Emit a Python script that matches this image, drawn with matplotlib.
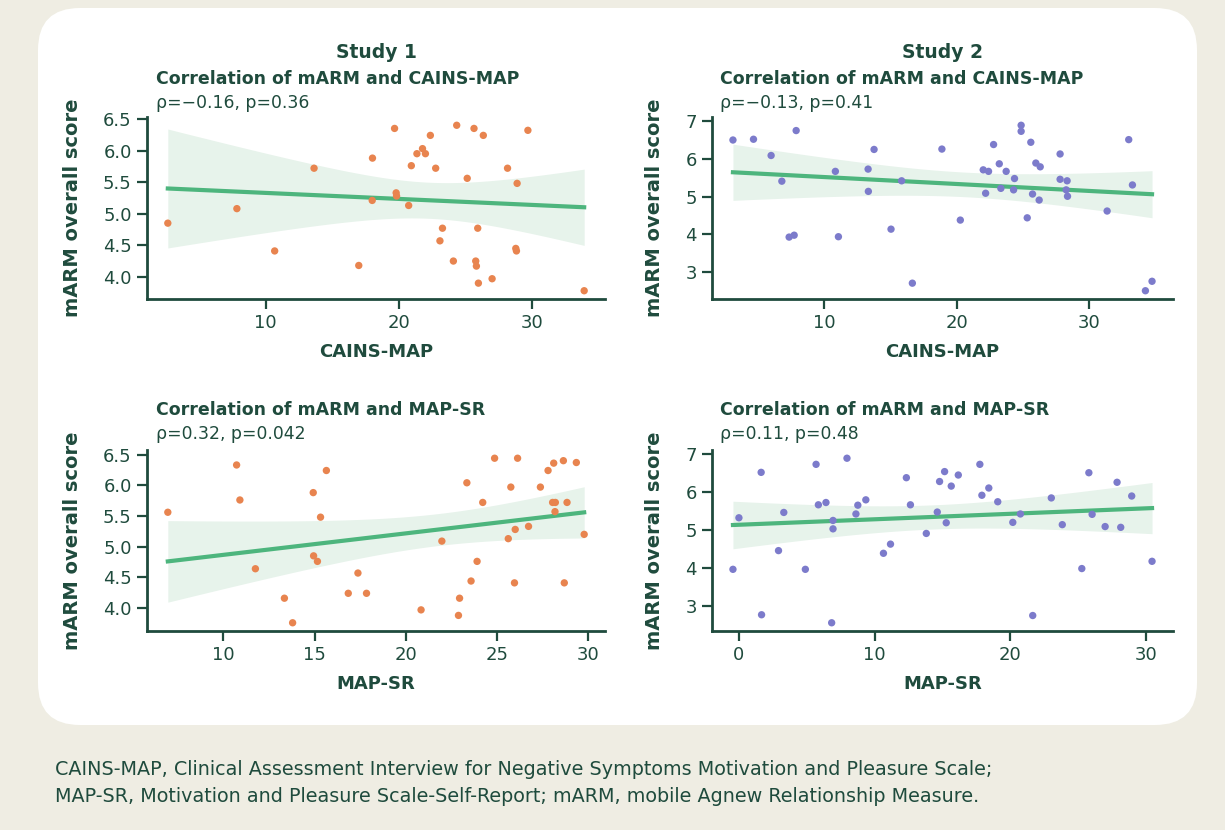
import numpy as np
import matplotlib.pyplot as plt
from matplotlib.patches import FancyBboxPatch
from matplotlib.transforms import IdentityTransform

# ---- data ----
s1_cains_x = [2.64, 7.83, 10.67, 13.63, 16.99, 18.0, 18.02, 19.68, 19.8, 19.83, 20.74, 20.94,
              21.36, 21.78, 22.0, 22.37, 22.77, 23.28, 23.09, 24.1, 24.35, 25.14, 25.65, 26.35,
              25.93, 25.78, 25.83, 25.98, 27.01, 28.17, 28.89, 28.79, 28.84, 29.7, 33.93]
s1_cains_y = [4.85, 5.08, 4.41, 5.72, 4.18, 5.21, 5.88, 6.35, 5.33, 5.28, 5.13, 5.76,
              5.95, 6.03, 5.95, 6.24, 5.72, 4.77, 4.57, 4.25, 6.40, 5.56, 6.35, 6.24,
              4.77, 4.25, 4.17, 3.90, 3.97, 5.72, 5.48, 4.45, 4.41, 6.32, 3.78]

s2_cains_x = [3.12, 4.67, 6.0, 6.81, 7.89, 7.36, 7.74, 10.85, 11.08, 13.32, 13.34, 13.77,
              15.05, 15.85, 16.66, 18.89, 20.28, 22.01, 22.41, 22.19, 22.79, 23.22, 23.34,
              23.74, 24.37, 24.3, 24.87, 24.87, 25.6, 25.33, 25.73, 25.98, 26.31, 26.23,
              27.81, 27.81, 28.34, 28.27, 28.37, 31.36, 32.99, 33.27, 34.25, 34.75]
s2_cains_y = [6.50, 6.52, 6.09, 5.41, 6.75, 3.93, 3.98, 5.67, 3.94, 5.73, 5.14, 6.25,
              4.14, 5.42, 2.71, 6.26, 4.38, 5.71, 5.67, 5.09, 6.38, 5.87, 5.22,
              5.67, 5.48, 5.18, 6.89, 6.73, 6.44, 4.44, 5.07, 5.89, 5.79, 4.91,
              6.13, 5.46, 5.42, 5.18, 5.01, 4.62, 6.51, 5.31, 2.51, 2.76]

s1_mapsr_x = [6.96, 10.73, 10.91, 11.76, 13.35, 13.8, 14.93, 14.95, 15.16, 15.33, 15.65,
              16.85, 17.38, 17.85, 20.84, 21.98, 22.95, 22.89, 23.35, 23.58, 23.91, 24.22,
              24.87, 25.62, 25.76, 26.0, 25.96, 26.13, 26.73, 27.38, 27.8, 28.11, 28.05,
              28.2, 28.18, 28.64, 28.84, 28.69, 29.35, 29.78]
s1_mapsr_y = [5.56, 6.33, 5.76, 4.64, 4.16, 3.76, 5.88, 4.85, 4.76, 5.48, 6.24,
              4.24, 4.57, 4.24, 3.97, 5.09, 4.16, 3.88, 6.04, 4.44, 4.76, 5.72,
              6.44, 5.13, 5.97, 5.28, 4.41, 6.44, 5.33, 5.97, 6.24, 6.36, 5.72,
              5.72, 5.57, 6.40, 5.72, 4.41, 6.37, 5.20]

s2_mapsr_x = [-0.44, 0.0, 1.64, 1.67, 2.92, 3.31, 4.9, 5.69, 5.86, 6.42, 6.84, 6.94, 6.94,
              7.97, 8.63, 8.77, 9.36, 10.66, 11.18, 12.35, 12.65, 13.82, 14.63, 14.8, 15.17,
              15.29, 15.66, 16.18, 17.77, 17.92, 18.43, 19.09, 20.2, 20.76, 21.67, 23.04,
              23.85, 25.29, 25.81, 26.05, 27.01, 27.89, 28.16, 28.97, 30.47]
s2_mapsr_y = [3.97, 5.32, 6.51, 2.78, 4.46, 5.46, 3.97, 6.72, 5.66, 5.72, 2.57, 5.25, 5.03,
              6.88, 5.42, 5.65, 5.79, 4.39, 4.63, 6.37, 5.66, 4.91, 5.47, 6.27, 6.53,
              5.19, 6.15, 6.44, 6.72, 5.91, 6.10, 5.74, 5.20, 5.42, 2.76, 5.84,
              5.14, 3.99, 6.50, 5.41, 5.09, 6.25, 5.07, 5.89, 4.18]

stats = ["ρ=−0.16, p=0.36", "ρ=−0.13, p=0.41", "ρ=0.32, p=0.042", "ρ=0.11, p=0.48"]

# ---- styling ----
BG = "#efede3"
INK = "#1f4b3d"
ORANGE = "#e8844f"
PURPLE = "#7c7bcb"
LINE = "#4db57d"
BAND = "#e7f3eb"

W, H = 1225, 830
fig = plt.figure(figsize=(W / 100, H / 100), dpi=100)
fig.patch.set_facecolor(BG)

# white rounded card behind the four panels
card = FancyBboxPatch((38, H - 725), 1159, 717, boxstyle="round,pad=0,rounding_size=42",
                      transform=IdentityTransform(), facecolor="white", edgecolor="none", zorder=-5)
fig.patches.append(card)


def fit_band(x, y, xs):
    x = np.asarray(x)
    y = np.asarray(y)
    n = len(x)
    b, a = np.polyfit(x, y, 1)
    resid = y - (a + b * x)
    s = np.sqrt(np.sum(resid ** 2) / (n - 2))
    se = s * np.sqrt(1 / n + (xs - x.mean()) ** 2 / np.sum((x - x.mean()) ** 2))
    yhat = a + b * xs
    return yhat, yhat - 2.03 * se, yhat + 2.03 * se


def panel(rect, x, y, color, xticks, yticks, yfmt, xlabel, subtitle, stat, px_text):
    ax = fig.add_axes(rect, zorder=2)
    xs = np.linspace(min(x), max(x), 100)
    yhat, lo, hi = fit_band(x, y, xs)
    ax.fill_between(xs, lo, hi, color=BAND, lw=0, zorder=1)
    ax.plot(xs, yhat, color=LINE, lw=3, zorder=2)
    ax.scatter(x, y, s=28, color=color, edgecolor="none", zorder=3)
    ax.set_xticks(xticks)
    ax.set_yticks(yticks)
    ax.set_yticklabels([yfmt.format(v) for v in yticks])
    for side in ["top", "right"]:
        ax.spines[side].set_visible(False)
    for side in ["left", "bottom"]:
        ax.spines[side].set_color(INK)
        ax.spines[side].set_linewidth(2)
    ax.tick_params(colors=INK, labelcolor=INK, length=7, width=1.6, labelsize=13, pad=4)
    ax.set_facecolor("none")
    ax.set_xlabel(xlabel, fontsize=13, fontweight="bold", color=INK, labelpad=8)
    ax.set_ylabel("mARM overall score", fontsize=14, fontweight="bold", color=INK, labelpad=15)
    left_px, title_py = px_text
    fig.text(left_px / W, 1 - title_py / H, subtitle, fontsize=12.5, fontweight="bold",
             color=INK, va="center", ha="left")
    fig.text(left_px / W, 1 - (title_py + 24) / H, stat, fontsize=12.4,
             color=INK, va="center", ha="left")
    return ax


top_rect_l = [147 / W, 1 - 299 / H, 458 / W, 182 / H]
top_rect_r = [712 / W, 1 - 299 / H, 461 / W, 182 / H]
bot_rect_l = [147 / W, 1 - 631 / H, 458 / W, 181 / H]
bot_rect_r = [712 / W, 1 - 631 / H, 461 / W, 181 / H]

ax1 = panel(top_rect_l, s1_cains_x, s1_cains_y, ORANGE, [10, 20, 30],
            [4.0, 4.5, 5.0, 5.5, 6.0, 6.5], "{:.1f}", "CAINS-MAP",
            "Correlation of mARM and CAINS-MAP", stats[0], (156, 79))
ax2 = panel(top_rect_r, s2_cains_x, s2_cains_y, PURPLE, [10, 20, 30],
            [3, 4, 5, 6, 7], "{:d}", "CAINS-MAP",
            "Correlation of mARM and CAINS-MAP", stats[1], (720, 79))
ax3 = panel(bot_rect_l, s1_mapsr_x, s1_mapsr_y, ORANGE, [10, 15, 20, 25, 30],
            [4.0, 4.5, 5.0, 5.5, 6.0, 6.5], "{:.1f}", "MAP-SR",
            "Correlation of mARM and MAP-SR", stats[2], (156, 410))
ax4 = panel(bot_rect_r, s2_mapsr_x, s2_mapsr_y, PURPLE, [0, 10, 20, 30],
            [3, 4, 5, 6, 7], "{:d}", "MAP-SR",
            "Correlation of mARM and MAP-SR", stats[3], (720, 410))

fig.text((147 + 605) / 2 / W, 1 - 52 / H, "Study 1", fontsize=13.5, fontweight="bold",
         color=INK, ha="center", va="center")
fig.text((712 + 1173) / 2 / W, 1 - 52 / H, "Study 2", fontsize=13.5, fontweight="bold",
         color=INK, ha="center", va="center")

caption = ("CAINS-MAP, Clinical Assessment Interview for Negative Symptoms Motivation and Pleasure Scale;\n"
           "MAP-SR, Motivation and Pleasure Scale-Self-Report; mARM, mobile Agnew Relationship Measure.")
fig.text(55 / W, 1 - 783 / H, caption, fontsize=13.8, color=INK, ha="left", va="center",
         linespacing=1.5)

fig.savefig("out.png", dpi=100, facecolor=BG)
